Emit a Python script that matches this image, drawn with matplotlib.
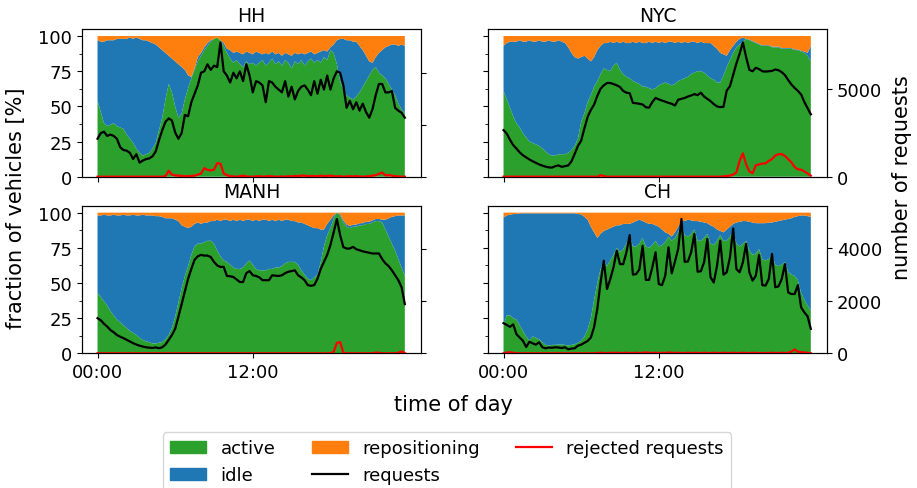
import numpy as np
import matplotlib
matplotlib.use("Agg")
import matplotlib.pyplot as plt
from matplotlib.ticker import AutoMinorLocator
from matplotlib.patches import Patch
from matplotlib.lines import Line2D

plt.rcParams["font.family"] = ["DejaVu Sans"]
plt.rcParams["font.size"] = 13

# ---------------------------------------------------------------- data
# 15-minute time steps over one day (hours)
hours = np.arange(96) * 0.25
tick_hours = [0, 12]
tick_labels = ["00:00", "12:00"]
pct_ticks = [0, 25, 50, 75, 100]
cities = ["HH", "NYC", "MANH", "CH"]

# fleet shares in percent (active / idle; the rest is repositioning)
hh_active = [54, 46, 38, 36, 37, 38, 36, 35, 34, 30, 27, 24, 20, 17, 15, 16,
             17, 20, 24, 33, 42, 55, 66, 60, 50, 42, 45, 55, 63, 70, 76, 82,
             86, 90, 93, 96, 98, 99, 97, 93, 88, 84, 81, 83, 80, 78, 82, 80,
             81, 79, 81, 83, 79, 81, 84, 80, 82, 79, 83, 81, 77, 82, 80, 83,
             79, 82, 84, 81, 83, 81, 85, 83, 90, 88, 80, 68, 62, 58, 56, 55,
             57, 60, 64, 68, 72, 76, 78, 74, 72, 70, 66, 62, 58, 52, 48, 45]
hh_idle = [43, 50, 58, 61, 60, 59, 62, 63, 64, 68, 72, 74, 79, 81, 82, 81,
           79, 75, 70, 59, 48, 33, 20, 24, 32, 38, 33, 21, 9, 1, 1, 3,
           2, 2, 2, 1, 0, 0, 0, 2, 3, 6, 7, 6, 8, 9, 7, 8,
           6, 10, 7, 4, 9, 6, 5, 7, 6, 7, 5, 6, 9, 6, 7, 5,
           8, 6, 5, 6, 5, 8, 5, 6, 2, 6, 17, 30, 36, 39, 41, 41,
           39, 33, 26, 18, 10, 5, 7, 14, 18, 22, 27, 32, 36, 41, 46, 48]

nyc_active = [61, 55, 49, 43, 38, 35, 31, 28, 25, 24, 23, 22, 20, 18, 16, 15,
              15, 16, 16, 16, 17, 19, 22, 27, 39, 45, 53, 58, 64, 68, 73, 77,
              76, 75, 79, 81, 76, 73, 71, 70, 68, 67, 66, 64, 64, 63, 62, 63,
              65, 66, 67, 66, 65, 66, 68, 69, 70, 71, 73, 74, 75, 75, 74, 72,
              70, 69, 67, 67, 72, 78, 83, 88, 92, 94, 96, 98, 97, 96, 95, 94,
              93, 93, 93, 92, 92, 92, 91, 91, 91, 91, 90, 90, 89, 88, 86, 82]
nyc_idle = [32, 40, 47, 53, 58, 62, 65, 68, 72, 72, 73, 75, 76, 78, 81, 81,
            81, 81, 80, 79, 75, 69, 63, 57, 46, 41, 31, 24, 21, 22, 20, 18,
            19, 21, 16, 15, 19, 23, 24, 25, 28, 28, 30, 31, 31, 33, 33, 33,
            30, 30, 28, 30, 31, 29, 28, 26, 26, 24, 23, 22, 20, 21, 21, 23,
            25, 24, 24, 21, 15, 8, 7, 5, 4, 4, 3, 0, 0.5, 0.5, 0.5, 0.5,
            0.5, 0.5, 0.5, 0.5, 0.5, 0.5, 0.5, 0.5, 0.5, 0.5, 0.5, 0.5, 0.5, 1, 2, 11]

manh_active = [43, 40, 37, 34, 30, 27, 24, 22, 20, 18, 16, 14.5, 13, 11, 9.5, 8.5,
               8, 7, 7, 7.5, 8, 10, 13, 18, 26, 36, 46, 55, 62, 70, 76, 78,
               78, 79, 80, 80, 78, 73, 69, 66, 65, 63, 61, 60, 60, 61, 64, 66,
               63, 60, 59, 59, 59, 60, 60, 61, 61, 62, 64, 65, 65, 65, 63, 59,
               56, 53, 52, 54, 56, 65, 76, 84, 89, 96, 100, 98, 93, 90, 89, 90,
               90, 91, 91, 92, 92, 93, 94, 94, 93, 88, 83, 78, 73, 67, 61, 55]
manh_idle = [55, 58, 61.5, 64, 68, 71.5, 74, 76, 78.5, 80, 82, 84, 85, 87, 89, 89.5,
             90, 91, 90.5, 90, 89, 86, 83, 78, 69, 58, 45, 35, 27, 20, 16, 15,
             14, 14, 13, 14, 16, 22, 25, 29, 30, 31, 34, 34, 35, 33, 31, 29,
             31, 35, 35, 36, 36, 34, 35, 33, 34, 32, 31, 30, 29, 29, 30, 34,
             36, 38, 38, 35, 33, 23, 12, 8, 6, 2, 0, 1, 1.5, 1.5, 1.5, 1.5,
             1.5, 1.5, 1.5, 1.5, 1.5, 1.5, 1.5, 1.5, 2, 7, 13, 19, 24.5, 31, 37, 43]

ch_active = [20, 27, 27, 25, 24, 20, 16, 12, 9, 12, 11, 10, 8, 6, 5.5, 6,
             6, 6.2, 6.2, 6, 5.5, 6, 6.5, 7.5, 9, 12, 17, 25, 38, 50, 60, 66,
             62, 66, 70, 75, 72, 74, 78, 84, 76, 76, 78, 82, 76, 75, 77, 80,
             76, 77, 79, 83, 80, 82, 86, 93, 84, 83, 85, 88, 80, 80, 82, 85,
             78, 77, 80, 84, 80, 80, 83, 87, 78, 76, 78, 80, 73, 70, 71, 74,
             67, 66, 67, 70, 63, 62, 63, 65, 58, 56, 55, 52, 43, 38, 34, 30]
ch_idle = [76.5, 71, 71.5, 74, 75, 79.5, 83.5, 87.5, 90.5, 87.5, 88.5, 89.5, 91.5, 93.5, 94, 93.5,
           93.5, 93.3, 93.3, 93.5, 94, 93.5, 93, 91.5, 89.8, 85, 78, 65, 48, 32, 25, 21,
           26, 23, 20, 16, 19, 18, 14, 8, 17, 18, 17, 12, 17, 17, 15, 11,
           14, 11, 7, 2, 3, 4, 4, 1, 10, 12, 9.5, 6, 14, 13.5, 11, 7.5,
           13, 13, 8, 3, 6, 8, 7, 5, 15, 17.5, 16, 14, 20.5, 23, 21.5, 18.5,
           25.5, 26.5, 26, 23, 30.5, 32, 31.5, 30, 37.5, 40, 42, 45.5, 55, 60, 63.5, 67]

# number of requests per time step
hh_requests = [729, 837, 864, 783, 810, 783, 729, 567, 513, 500, 459, 340, 432, 270, 310, 338,
               351, 392, 486, 702, 891, 1053, 1120, 1080, 850, 729, 837, 1188, 1161, 1431, 1593, 1755,
               1998, 2025, 2160, 2052, 2133, 2106, 2580, 2025, 1944, 1809, 1998, 1890, 2025, 1836, 2160, 1944,
               1620, 1836, 1809, 1755, 1431, 1836, 1809, 1728, 1674, 1620, 1836, 1539, 1728, 1485, 1647, 1728,
               1755, 1674, 1566, 1836, 1593, 1863, 1674, 1944, 1674, 1890, 2025, 1998, 1755, 1323, 1458, 1296,
               1431, 1269, 1404, 1242, 1134, 1296, 1566, 1782, 1782, 1620, 1620, 1647, 1323, 1269, 1229, 1134]
nyc_requests = [2650, 2450, 2100, 1800, 1600, 1380, 1220, 1100, 980, 880, 790, 700, 630, 570, 530, 520,
                600, 640, 560, 600, 640, 870, 1300, 1750, 2050, 2750, 3400, 3800, 4100, 4600, 5000, 5200,
                5330, 5330, 5270, 5200, 5100, 4880, 4780, 4750, 4200, 4180, 4150, 4110, 3950, 3930, 4250, 4480,
                4400, 4330, 4270, 4200, 4150, 4050, 4380, 4430, 4480, 4560, 4620, 4700, 4640, 4780, 4560, 4430,
                4300, 4130, 4000, 3960, 3980, 4900, 5150, 5800, 6450, 7000, 7640, 6800, 6080, 6000, 6200, 6120,
                6000, 5980, 6000, 6020, 6100, 6060, 5950, 5780, 5500, 5250, 5050, 4880, 4680, 4250, 3900, 3550]
manh_requests = [1350, 1269, 1134, 1026, 891, 810, 702, 637, 583, 518, 454, 389, 335, 292, 259, 232,
                 216, 205, 227, 194, 232, 335, 513, 702, 940, 1404, 1890, 2376, 2862, 3240, 3591, 3726,
                 3780, 3753, 3753, 3699, 3510, 3375, 3316, 3321, 2970, 2959, 2932, 2835, 2738, 2738, 3078, 3159,
                 2997, 2970, 2916, 2808, 2808, 2808, 2997, 2981, 2970, 2997, 3078, 3132, 3159, 3186, 2997, 2916,
                 2808, 2619, 2592, 2619, 2862, 3240, 3510, 3780, 4158, 4644, 5157, 4536, 4077, 4023, 4023, 4088,
                 3996, 3958, 3915, 3888, 3861, 3834, 3834, 3834, 3618, 3456, 3348, 3186, 2997, 2808, 2538, 1890]
ch_requests = [1150, 1080, 1010, 1100, 730, 600, 480, 240, 440, 380, 330, 420, 230, 190, 220, 210,
               230, 220, 200, 230, 150, 180, 190, 290, 330, 400, 470, 600, 1000, 1700, 2700, 3530,
               2450, 2830, 3280, 3910, 3400, 3400, 3850, 4510, 3000, 3020, 3200, 4100, 2800, 2800, 3280, 3850,
               2640, 2600, 2960, 4040, 3050, 3500, 3980, 5120, 3490, 3500, 3850, 4550, 3110, 3130, 3470, 4360,
               2900, 2700, 3340, 4290, 3000, 3090, 3660, 4760, 3210, 3090, 3470, 4170, 3090, 2770, 2960, 3750,
               2600, 2580, 2830, 3790, 2520, 2550, 2830, 3400, 2320, 2260, 2260, 2600, 1750, 1560, 1410, 930]

# rejected requests per time step
hh_rejected = [0, 0, 0, 0, 0, 0, 0, 0, 0, 0, 0, 0, 0, 0, 0, 0,
               0, 0, 0, 0, 0, 10, 115, 40, 25, 20, 15, 10, 10, 15, 20, 40,
               60, 165, 130, 120, 135, 260, 250, 60, 30, 10, 5, 0, 10, 20, 5, 0,
               0, 5, 10, 0, 5, 10, 5, 0, 0, 5, 0, 10, 5, 15, 10, 20,
               20, 10, 15, 10, 10, 20, 10, 15, 20, 10, 5, 10, 0, 5, 10, 5,
               10, 5, 0, 5, 10, 20, 30, 55, 80, 25, 30, 20, 10, 5, 0, 0]
nyc_rejected = [0, 0, 0, 0, 0, 0, 0, 0, 0, 0, 0, 0, 0, 0, 0, 0,
                0, 0, 0, 0, 0, 0, 0, 0, 0, 0, 0, 0, 0, 0, 80, 40,
                0, 0, 0, 0, 0, 0, 0, 0, 0, 0, 0, 0, 0, 0, 0, 0,
                0, 0, 0, 0, 0, 0, 0, 0, 0, 0, 0, 0, 0, 0, 0, 0,
                0, 0, 0, 0, 20, 40, 60, 120, 250, 900, 1330, 700, 300, 200, 650, 700,
                750, 760, 900, 1000, 1200, 1280, 1290, 1180, 1000, 820, 550, 420, 400, 300, 180, 60]
manh_rejected = [0, 0, 0, 0, 0, 0, 0, 0, 0, 0, 0, 0, 0, 0, 0, 0,
                 0, 0, 0, 0, 0, 0, 0, 0, 0, 0, 0, 0, 0, 0, 0, 0,
                 0, 0, 0, 0, 0, 0, 0, 0, 0, 0, 0, 0, 0, 0, 0, 0,
                 0, 0, 0, 0, 0, 0, 0, 0, 0, 0, 0, 0, 0, 0, 0, 0,
                 0, 0, 0, 0, 0, 0, 0, 0, 0, 60, 400, 430, 20, 0, 0, 0,
                 0, 0, 0, 0, 0, 0, 25, 20, 0, 0, 0, 0, 0, 20, 75, 10]
ch_rejected = [0, 30, 40, 20, 0, 0, 0, 0, 0, 0, 0, 0, 0, 0, 0, 0,
               0, 0, 0, 0, 0, 0, 0, 0, 0, 0, 0, 0, 0, 10, 20, 10,
               10, 20, 10, 20, 10, 10, 20, 10, 10, 20, 10, 20, 30, 20, 10, 20,
               10, 20, 10, 30, 20, 10, 20, 10, 10, 20, 10, 20, 10, 10, 20, 10,
               10, 20, 10, 10, 20, 10, 10, 20, 10, 10, 20, 10, 10, 20, 10, 10,
               10, 10, 10, 20, 10, 10, 20, 10, 20, 60, 150, 60, 40, 30, 20, 0]

request_ticks = {"HH": [0, 1000, 2000], "NYC": [0, 5000],
                 "MANH": [0, 2000, 4000], "CH": [0, 2000, 4000]}

series = {
    "HH": (hh_active, hh_idle, hh_requests, hh_rejected),
    "NYC": (nyc_active, nyc_idle, nyc_requests, nyc_rejected),
    "MANH": (manh_active, manh_idle, manh_requests, manh_rejected),
    "CH": (ch_active, ch_idle, ch_requests, ch_rejected),
}

# ---------------------------------------------------------------- style
C_ACTIVE, C_IDLE, C_REPO = "#2ca02c", "#1f77b4", "#ff7f0e"
C_REQ, C_REJ = "black", "red"
TICK_FS, TITLE_FS, LABEL_FS, LEGEND_FS = 13, 13.5, 15, 13

W, H = 917, 489
fig = plt.figure(figsize=(W / 100, H / 100), dpi=100)

ax_w = 339 / W
ax_h = 147.7 / H
lefts = [82 / W, 488 / W]
bottoms = [1 - 177.7 / H, 1 - 354.3 / H]

first = None
for k, city in enumerate(cities):
    row, col = divmod(k, 2)
    rect = [lefts[col], bottoms[row], ax_w, ax_h]
    if first is None:
        ax = fig.add_axes(rect)
        first = ax
    else:
        ax = fig.add_axes(rect, sharex=first, sharey=first)

    active, idle, req, rej = (np.asarray(s, dtype=float) for s in series[city])
    repo = 100.0 - active - idle

    ax.stackplot(hours, active, idle, repo, colors=[C_ACTIVE, C_IDLE, C_REPO],
                 linewidth=0)
    ax.set_ylim(0, 105)
    ax.set_yticks(pct_ticks)
    ax.yaxis.set_minor_locator(AutoMinorLocator(2))
    ax.set_xticks(tick_hours)
    ax.set_xticklabels(tick_labels)
    ax.set_title(city, fontsize=TITLE_FS)
    ax.tick_params(labelsize=TICK_FS)
    if row == 0:
        ax.tick_params(labelbottom=False)
    if col == 1:
        ax.tick_params(labelleft=False)

    tw = ax.twinx()
    tw.plot(hours, req, color=C_REQ, lw=1.6)
    tw.plot(hours, rej, color=C_REJ, lw=1.6)
    tw.set_ylim(0, 1.1 * req.max())
    tw.set_yticks(request_ticks[city])
    tw.tick_params(labelsize=TICK_FS)
    if col == 0:
        tw.tick_params(labelright=False)

first.set_xlim(-1.2, 25.0)

fig.text(15.7 / W, 1 - 208 / H, "fraction of vehicles [%]", rotation=90,
         ha="center", va="center", fontsize=LABEL_FS)
fig.text(902 / W, 1 - 178 / H, "number of requests", rotation=90,
         ha="center", va="center", fontsize=LABEL_FS)
fig.text(453 / W, 1 - 405 / H, "time of day", ha="center", va="center",
         fontsize=LABEL_FS)

handles = [Patch(color=C_ACTIVE, label="active"),
           Patch(color=C_IDLE, label="idle"),
           Patch(color=C_REPO, label="repositioning"),
           Line2D([], [], color=C_REQ, lw=1.6, label="requests"),
           Line2D([], [], color=C_REJ, lw=1.6, label="rejected requests")]
fig.legend(handles=handles, loc="upper center", ncol=3,
           bbox_to_anchor=(447 / W, 1 - 424 / H), fontsize=LEGEND_FS)

fig.savefig("out.png", dpi=100)
